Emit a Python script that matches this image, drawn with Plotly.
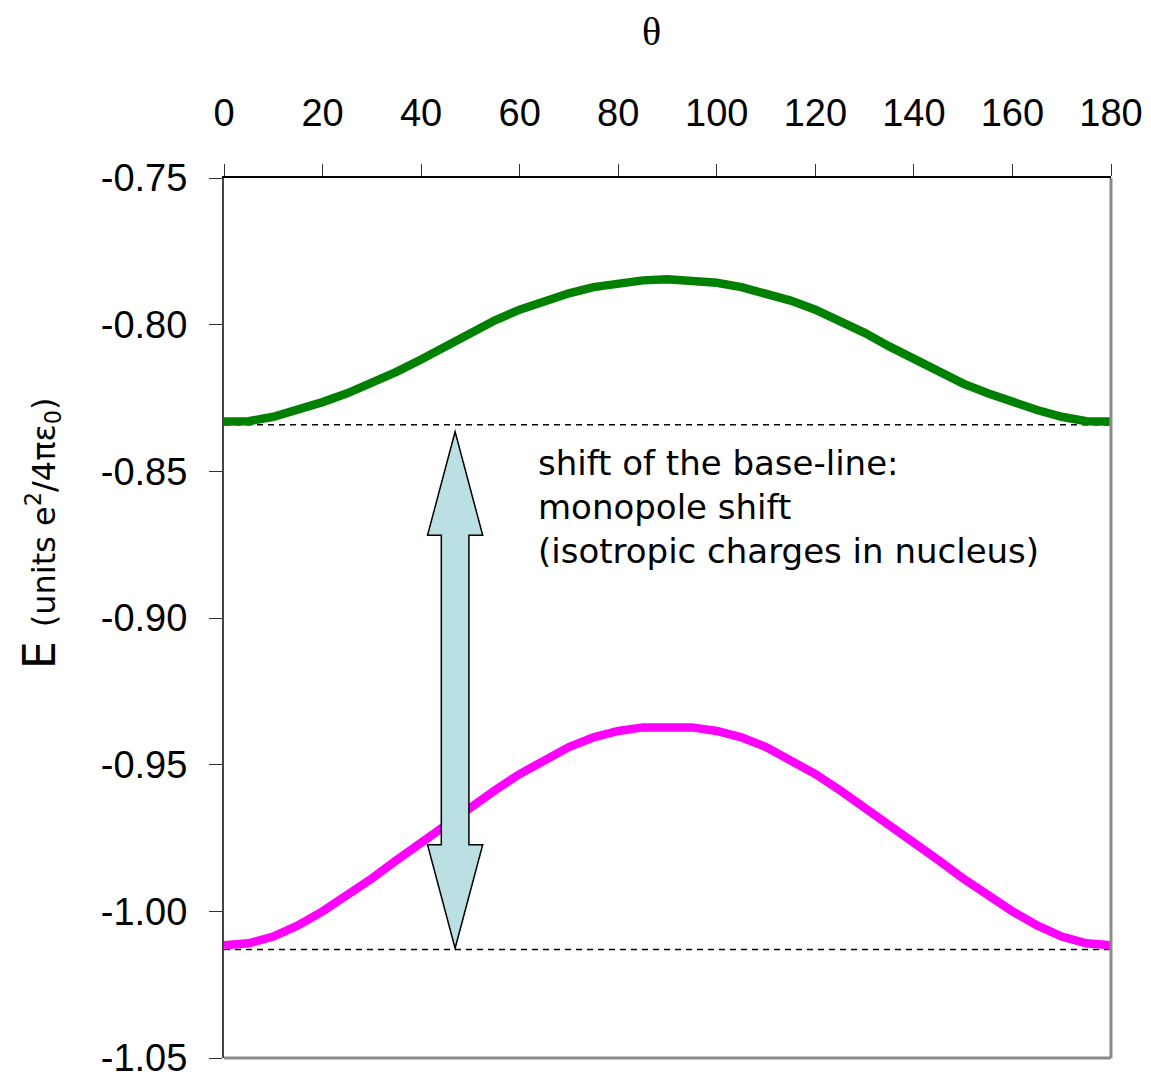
import plotly.graph_objects as go

# ---- data ----
theta = [0, 5, 10, 15, 20, 25, 30, 35, 40, 45, 50, 55, 60, 65, 70, 75, 80, 85, 90,
         95, 100, 105, 110, 115, 120, 125, 130, 135, 140, 145, 150, 155, 160, 165, 170, 175, 180]

energy_quadrupole = [-0.8330, -0.8329, -0.8314, -0.8291, -0.8264, -0.8234, -0.8201, -0.8161,
                     -0.8119, -0.8074, -0.8028, -0.7985, -0.7949, -0.7918, -0.7893, -0.7872,
                     -0.7857, -0.7849, -0.7845,
                     -0.7849, -0.7857, -0.7872, -0.7893, -0.7918, -0.7949, -0.7985, -0.8028,
                     -0.8074, -0.8119, -0.8161, -0.8201, -0.8234, -0.8264, -0.8291, -0.8314,
                     -0.8329, -0.8330]

energy_total = [-1.0116, -1.0109, -1.0086, -1.0048, -1.0000, -0.9946, -0.9888, -0.9826,
                -0.9765, -0.9705, -0.9645, -0.9587, -0.9532, -0.9482, -0.9440, -0.9407,
                -0.9385, -0.9373, -0.9372,
                -0.9373, -0.9385, -0.9407, -0.9440, -0.9482, -0.9532, -0.9587, -0.9645,
                -0.9705, -0.9765, -0.9826, -0.9888, -0.9946, -1.0000, -1.0048, -1.0086,
                -1.0109, -1.0116]

baseline_x = [0, 180]
baseline_upper = -0.8341
baseline_lower = -1.0130

x_ticks = [0, 20, 40, 60, 80, 100, 120, 140, 160, 180]
y_ticks = [-0.75, -0.80, -0.85, -0.90, -0.95, -1.00, -1.05]
y_tick_labels = ["-0.75", "-0.80", "-0.85", "-0.90", "-0.95", "-1.00", "-1.05"]

annotation_lines = ["shift of the base-line:", "monopole shift", "(isotropic charges in nucleus)"]

# arrow annotation geometry (data units)
arrow_x = 46.9
arrow_top = -0.8365
arrow_bottom = -1.0126
arrow_head_len = 0.0353
arrow_head_half = 5.6
arrow_shaft_half = 2.8

fig = go.Figure()

fig.add_trace(go.Scatter(x=baseline_x, y=[baseline_upper] * 2, mode="lines",
                         line=dict(color="black", width=1.5, dash="6px,5px"),
                         showlegend=False, hoverinfo="skip"))
fig.add_trace(go.Scatter(x=baseline_x, y=[baseline_lower] * 2, mode="lines",
                         line=dict(color="black", width=1.5, dash="6px,5px"),
                         showlegend=False, hoverinfo="skip"))
fig.add_trace(go.Scatter(x=theta, y=energy_quadrupole, mode="lines",
                         line=dict(color="#008000", width=8.5), showlegend=False))
fig.add_trace(go.Scatter(x=theta, y=energy_total, mode="lines",
                         line=dict(color="#FF00FF", width=8.5), showlegend=False))

# double-headed block arrow
ax, t, b, hl, hh, sh = arrow_x, arrow_top, arrow_bottom, arrow_head_len, arrow_head_half, arrow_shaft_half
pts = [(ax, t), (ax + hh, t - hl), (ax + sh, t - hl), (ax + sh, b + hl), (ax + hh, b + hl),
       (ax, b), (ax - hh, b + hl), (ax - sh, b + hl), (ax - sh, t - hl), (ax - hh, t - hl)]
path = "M " + " L ".join(f"{px},{py}" for px, py in pts) + " Z"
fig.add_shape(type="path", path=path, xref="x", yref="y",
              fillcolor="#BBE0E3", line=dict(color="black", width=1.5), layer="above")

# right / bottom grey frame
fig.add_shape(type="line", xref="paper", yref="paper", x0=1, x1=1, y0=0, y1=1,
              line=dict(color="#8a8a8a", width=3))
fig.add_shape(type="line", xref="paper", yref="paper", x0=0, x1=1, y0=0, y1=0,
              line=dict(color="#8a8a8a", width=3))

fig.add_annotation(text="<br>".join(annotation_lines), xref="x", yref="y",
                   x=63.4, y=-0.8395, xanchor="left", yanchor="top", align="left",
                   showarrow=False, font=dict(family="DejaVu Sans", size=34, color="black"))

fig.add_annotation(text="θ", xref="paper", yref="paper", x=0.482, y=1.167,
                   xanchor="center", yanchor="middle", showarrow=False,
                   font=dict(family="Liberation Serif", size=40, color="black"))

fig.add_annotation(text="E <span style='font-size:32px'>(units e<sup>2</sup>/4πε<sub>0</sub>)</span>",
                   xref="paper", yref="paper", x=-0.207, y=0.597, textangle=-90,
                   xanchor="center", yanchor="middle", showarrow=False,
                   font=dict(family="DejaVu Sans", size=44, color="black"))

fig.update_layout(
    width=1151, height=1076,
    margin=dict(l=224, r=40, t=178, b=18, autoexpand=False),
    plot_bgcolor="white", paper_bgcolor="white",
    xaxis=dict(range=[0, 180], side="top", tickvals=x_ticks, showgrid=False, zeroline=False,
               automargin=False,
               showline=True, linecolor="black", linewidth=1.5,
               ticks="outside", ticklen=12, tickwidth=1, tickcolor="#333",
               ticklabelstandoff=23, ticklabeloverflow="allow",
               tickfont=dict(family="Liberation Sans", size=38, color="black")),
    yaxis=dict(range=[-1.05, -0.75], tickvals=y_ticks, ticktext=y_tick_labels,
               showgrid=False, zeroline=False, automargin=False,
               showline=True, linecolor="#444", linewidth=2,
               ticks="outside", ticklen=13, tickwidth=1, tickcolor="#333",
               ticklabelstandoff=14, ticklabeloverflow="allow",
               tickfont=dict(family="Liberation Sans", size=38, color="black")),
)

fig.write_html("out.html")
